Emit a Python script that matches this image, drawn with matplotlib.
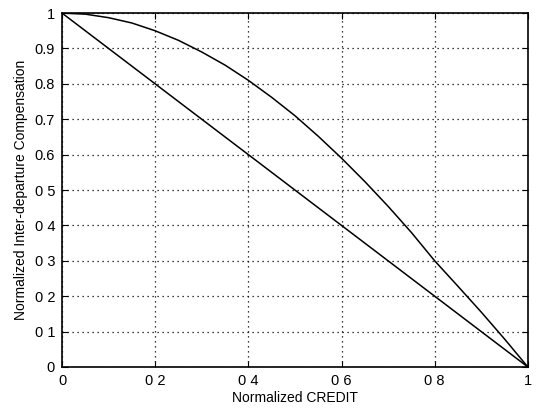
import numpy as np
import matplotlib
matplotlib.use("Agg")
import matplotlib.pyplot as plt

# curve values
credit = [0.0, 0.05, 0.1, 0.15, 0.2, 0.25, 0.3, 0.35, 0.4, 0.45, 0.5,
          0.55, 0.6, 0.65, 0.7, 0.75, 0.8, 0.85, 0.9, 0.95, 1.0]
comp_curve = [1.0, 0.997, 0.987, 0.972, 0.95, 0.923, 0.89, 0.853, 0.81, 0.762, 0.71,
              0.652, 0.59, 0.524, 0.454, 0.38, 0.30, 0.228, 0.155, 0.079, 0.0]
line_x = [0.0, 1.0]
comp_line = [1.0, 0.0]

x_ticks = [0, 0.2, 0.4, 0.6, 0.8, 1]
x_ticklabels = ["0", "0 2", "0 4", "0 6", "0 8", "1"]
y_ticks = [0, 0.1, 0.2, 0.3, 0.4, 0.5, 0.6, 0.7, 0.8, 0.9, 1]
y_ticklabels = ["0", "0 1", "0 2", "0 3", "0 4", "0 5", "0.6", "0.7", "0.8", "0.9", "1"]

plt.rcParams["font.family"] = ["Liberation Sans", "DejaVu Sans"]

fig = plt.figure(figsize=(5.37, 4.09), dpi=100)
ax = fig.add_axes([0.1155, 0.1027, 0.8675, 0.8653])

ax.plot(credit, comp_curve, color="black", linewidth=1.1)
ax.plot(line_x, comp_line, color="black", linewidth=1.1)

ax.set_xlim(0, 1)
ax.set_ylim(0, 1)
ax.set_xticks(x_ticks)
ax.set_xticklabels(x_ticklabels)
ax.set_yticks(y_ticks)
ax.set_yticklabels(y_ticklabels)
ax.tick_params(direction="in", top=True, right=True, labelsize=10.5, length=4, pad=5)
ax.grid(True, color="black", linestyle=(0, (1, 3)), linewidth=0.9)

for s in ax.spines.values():
    s.set_linewidth(1.2)

ax.set_xlabel("Normalized CREDIT", fontsize=10, labelpad=2)
ax.set_ylabel("Normalized Inter-departure Compensation", fontsize=10, labelpad=5)

fig.savefig("out.png", dpi=100)
